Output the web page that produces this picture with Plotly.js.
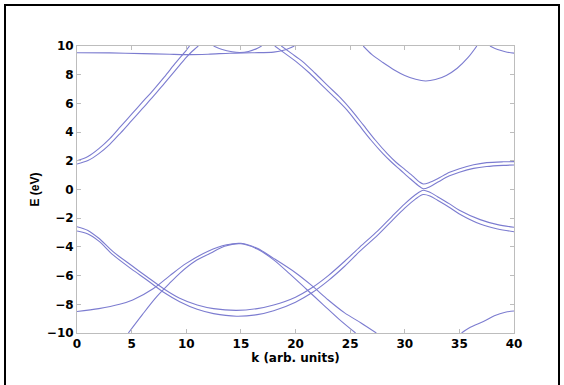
<!DOCTYPE html>
<html>
<head>
<meta charset="utf-8">
<script src="https://cdn.plot.ly/plotly-3.0.1.min.js"></script>
<style>
html,body{margin:0;padding:0;background:#fff;}
#wrap{position:relative;width:564px;height:385px;}
#chart{width:564px;height:385px;}
#frame{position:absolute;left:4px;top:4px;width:556px;height:385px;border:2px solid #000;border-bottom:none;pointer-events:none;box-sizing:border-box;}
</style>
</head>
<body>
<div id="wrap"><div id="chart"></div><div id="frame"></div></div>
<script>
// k values (arb. units) and energies (eV)
const flatK = [0,3,6,8.5,10,12,14,16,18,19,19.9];
const flatE = [9.53,9.52,9.47,9.42,9.40,9.43,9.50,9.53,9.57,9.72,10];

const arcK = [12.5,13.3,14.2,14.9,15.7,16.4,16.9];
const arcE = [10,9.75,9.6,9.55,9.62,9.8,10];

const riseUpK = [0,1,2,3,4,5,6,7,8,9,10,10.3];
const riseUpE = [2.0,2.3,2.85,3.55,4.4,5.25,6.1,6.95,7.85,8.8,9.7,10];
const riseLoK = [0,1,2,3,4,5,6,7,8,9,10,10.5,11.1];
const riseLoE = [1.78,2.02,2.5,3.15,3.95,4.8,5.65,6.5,7.4,8.3,9.2,9.6,10];

const condOutK = [18.7,19.6,20.6,21.8,23,24.1,25.1,26.2,27.3,28.4,29.2,30,30.8,31.3,31.7,32.3,33,34.1,35,36.3,37.5,39,40];
const condOutE = [10,9.5,8.95,8.1,7.2,6.4,5.55,4.5,3.45,2.5,1.9,1.4,0.9,0.55,0.38,0.5,0.75,1.2,1.45,1.72,1.87,1.93,1.94];
const condInK = [18.1,19,20,21.3,22.5,23.6,24.7,25.8,26.9,28,28.8,29.6,30.5,31.2,31.7,32.3,33,34.1,35,36.3,37.5,39,40];
const condInE = [10,9.5,8.95,8.1,7.2,6.4,5.55,4.5,3.45,2.5,1.9,1.36,0.75,0.3,0.05,0.2,0.5,0.95,1.2,1.47,1.6,1.68,1.71];

const valInK = [0,1,2,3.3,5,6.4,8,9.4,11,12.5,14.6,16.5,18,20,21.5,23,24.5,25.9,27.5,28.8,30,31,31.7,32.3,33,34.1,35,36.9,38.5,40];
const valInE = [-2.59,-2.85,-3.4,-4.33,-5.3,-6.08,-6.95,-7.58,-8.05,-8.3,-8.42,-8.3,-8.05,-7.5,-6.85,-6.0,-5.0,-4.0,-2.9,-1.9,-1.0,-0.35,-0.05,-0.2,-0.5,-1.0,-1.45,-2.1,-2.45,-2.63];
const valOutK = valInK;
const valOutE = [-2.89,-3.1,-3.6,-4.56,-5.55,-6.31,-7.2,-7.82,-8.35,-8.65,-8.83,-8.72,-8.45,-7.85,-7.2,-6.35,-5.35,-4.3,-3.2,-2.2,-1.3,-0.65,-0.35,-0.45,-0.75,-1.25,-1.7,-2.4,-2.75,-2.94];

const domeGentleK = [0,2,3.9,5.1,7,8.5,10,12,13.7,15,16.5,18,20,21.5,23,24.5,26,27.4];
const domeGentleE = [-8.5,-8.3,-8.0,-7.7,-6.9,-6.0,-5.15,-4.3,-3.85,-3.75,-4.1,-4.8,-5.8,-6.7,-7.7,-8.6,-9.3,-10];
const domeSteepK = [4.7,6,7.3,8.4,9.4,10.8,12.2,13.5,15,16.5,18,19.5,21,22.5,24,25.5];
const domeSteepE = [-10,-8.7,-7.47,-6.6,-5.84,-5.0,-4.45,-3.95,-3.78,-4.15,-4.9,-5.9,-6.95,-8.0,-9.05,-10];

const topBowlK = [26.2,27,28,29,30,31,31.9,32.8,33.8,34.8,35.8,36.6];
const topBowlE = [10,9.4,8.85,8.35,7.95,7.68,7.56,7.66,7.95,8.45,9.2,10];

const topEdgeK = [37.8,38.5,39.2,40];
const topEdgeE = [10,9.75,9.6,9.5];

const botEdgeK = [35.2,36,37.2,38.2,39.2,40];
const botEdgeE = [-10,-9.6,-9.2,-8.8,-8.55,-8.47];

const xTicks = [0,5,10,15,20,25,30,35,40];
const yTicks = [-10,-8,-6,-4,-2,0,2,4,6,8,10];

const lineColor = '#7c7cd0';
const series = [
  [flatK, flatE], [arcK, arcE],
  [riseUpK, riseUpE], [riseLoK, riseLoE],
  [condOutK, condOutE], [condInK, condInE],
  [valInK, valInE], [valOutK, valOutE],
  [domeGentleK, domeGentleE], [domeSteepK, domeSteepE],
  [topBowlK, topBowlE], [topEdgeK, topEdgeE], [botEdgeK, botEdgeE]
];
const traces = series.map(s => ({
  x: s[0], y: s[1], type: 'scatter', mode: 'lines',
  line: {color: lineColor, width: 1.1, shape: 'spline', smoothing: 0.9},
  hoverinfo: 'skip', showlegend: false
}));

const tickFont = {family: 'DejaVu Sans', size: 12, color: '#000', weight: 'bold'};
const layout = {
  width: 564, height: 385,
  margin: {l: 77, r: 50, t: 46, b: 52},
  paper_bgcolor: '#fff', plot_bgcolor: '#fff',
  showlegend: false,
  xaxis: {
    range: [0, 40], tickvals: xTicks, ticktext: xTicks.map(String),
    showgrid: false, zeroline: false,
    showline: true, linecolor: '#bdbdbd', linewidth: 1, mirror: 'ticks',
    ticks: 'inside', ticklen: 4, tickcolor: '#bdbdbd',
    tickfont: tickFont,
    title: {text: 'k (arb. units)', font: {family: 'DejaVu Sans', size: 12, color: '#000', weight: 'bold'}, standoff: 0}
  },
  yaxis: {
    range: [-10, 10], tickvals: yTicks,
    showgrid: false, zeroline: false,
    showline: true, linecolor: '#bdbdbd', linewidth: 1, mirror: 'ticks',
    ticks: 'inside', ticklen: 4, tickcolor: '#bdbdbd',
    tickfont: tickFont,
    title: {text: 'E (eV)', font: {family: 'Liberation Sans', size: 12, color: '#000', weight: 'bold'}, standoff: 4}
  }
};
Plotly.newPlot('chart', traces, layout, {staticPlot: true, displayModeBar: false});
</script>
</body>
</html>
